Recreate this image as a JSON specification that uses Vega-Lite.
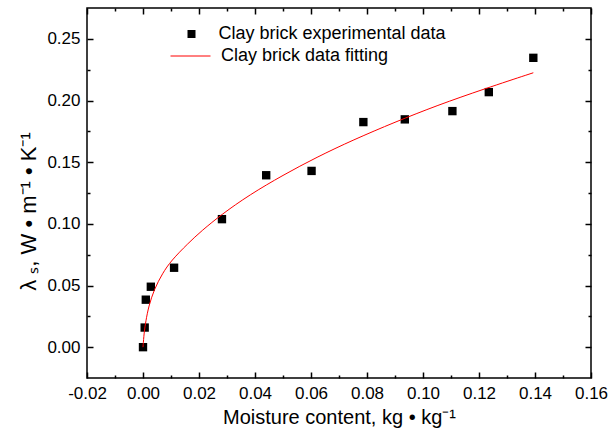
{
  "$schema": "https://vega.github.io/schema/vega-lite/v6.json",
  "width": 504,
  "height": 370,
  "autosize": {"type": "none"},
  "padding": {"left": 87, "top": 8, "right": 20, "bottom": 60},
  "config": {
    "view": {"stroke": "#000", "strokeWidth": 1.5},
    "font": "Liberation Sans",
    "axis": {
      "domain": false,
      "grid": false,
      "ticks": true,
      "tickColor": "#000",
      "tickWidth": 1.5,
      "labelColor": "#000",
      "labelFont": "Liberation Sans",
      "labelFontSize": 17,
      "titleFont": "Liberation Sans",
      "titleFontSize": 20,
      "titleFontWeight": "normal",
      "titleColor": "#000"
    },
    "legend": {
      "labelFont": "Liberation Sans",
      "labelFontSize": 18,
      "labelColor": "#000",
      "labelLimit": 0,
      "padding": 0
    }
  },
  "datasets": {
    "pts": [
      {"x": 0.0000, "y": 0.0000, "series": "Clay brick experimental data"},
      {"x": 0.0006, "y": 0.0159, "series": "Clay brick experimental data"},
      {"x": 0.0010, "y": 0.0385, "series": "Clay brick experimental data"},
      {"x": 0.0028, "y": 0.0490, "series": "Clay brick experimental data"},
      {"x": 0.0111, "y": 0.0644, "series": "Clay brick experimental data"},
      {"x": 0.0282, "y": 0.1038, "series": "Clay brick experimental data"},
      {"x": 0.0440, "y": 0.1394, "series": "Clay brick experimental data"},
      {"x": 0.0602, "y": 0.1429, "series": "Clay brick experimental data"},
      {"x": 0.0787, "y": 0.1825, "series": "Clay brick experimental data"},
      {"x": 0.0935, "y": 0.1847, "series": "Clay brick experimental data"},
      {"x": 0.1105, "y": 0.1914, "series": "Clay brick experimental data"},
      {"x": 0.1235, "y": 0.2068, "series": "Clay brick experimental data"},
      {"x": 0.1394, "y": 0.2346, "series": "Clay brick experimental data"}
    ],
    "fit": [
      {"x": 0.0000, "y": 0.0000, "series": "Clay brick data fitting"},
      {"x": 0.0004, "y": 0.0120, "series": "Clay brick data fitting"},
      {"x": 0.0010, "y": 0.0210, "series": "Clay brick data fitting"},
      {"x": 0.0020, "y": 0.0330, "series": "Clay brick data fitting"},
      {"x": 0.0040, "y": 0.0470, "series": "Clay brick data fitting"},
      {"x": 0.0070, "y": 0.0600, "series": "Clay brick data fitting"},
      {"x": 0.0100, "y": 0.0700, "series": "Clay brick data fitting"},
      {"x": 0.0160, "y": 0.0840, "series": "Clay brick data fitting"},
      {"x": 0.0210, "y": 0.0945, "series": "Clay brick data fitting"},
      {"x": 0.0280, "y": 0.1075, "series": "Clay brick data fitting"},
      {"x": 0.0380, "y": 0.1235, "series": "Clay brick data fitting"},
      {"x": 0.0500, "y": 0.1395, "series": "Clay brick data fitting"},
      {"x": 0.0620, "y": 0.1540, "series": "Clay brick data fitting"},
      {"x": 0.0750, "y": 0.1680, "series": "Clay brick data fitting"},
      {"x": 0.0900, "y": 0.1825, "series": "Clay brick data fitting"},
      {"x": 0.1050, "y": 0.1960, "series": "Clay brick data fitting"},
      {"x": 0.1220, "y": 0.2095, "series": "Clay brick data fitting"},
      {"x": 0.1394, "y": 0.2225, "series": "Clay brick data fitting"}
    ]
  },
  "layer": [
    {
      "data": {"name": "pts"},
      "mark": {"type": "point", "shape": "square", "filled": true, "color": "#000", "size": 70, "opacity": 1},
      "encoding": {
        "x": {
          "field": "x", "type": "quantitative",
          "scale": {"domain": [-0.02, 0.16], "nice": false, "zero": false},
          "axis": {
            "orient": "bottom",
            "values": [-0.02, 0, 0.02, 0.04, 0.06, 0.08, 0.1, 0.12, 0.14, 0.16],
            "tickSize": -6,
            "labelPadding": 13,
            "labelFlush": false,
            "labelExpr": "replace(format(datum.value, '.2f'), '\u2212', '-')",
            "title": "Moisture content, kg • kg⁻¹",
            "titlePadding": 6
          }
        },
        "y": {
          "field": "y", "type": "quantitative",
          "scale": {"domain": [-0.025, 0.275], "nice": false, "zero": false},
          "axis": {
            "orient": "left",
            "values": [0, 0.05, 0.1, 0.15, 0.2, 0.25],
            "tickSize": -6,
            "labelPadding": 13,
            "labelFlush": false,
            "labelExpr": "replace(format(datum.value, '.2f'), '\u2212', '-')",
            "title": "λ ₛ,  W  •  m⁻¹  •  K⁻¹",
            "titleFontSize": 22,
            "titleY": 203,
            "titlePadding": 6
          }
        },
        "shape": {
          "field": "series", "type": "nominal",
          "scale": {"range": ["square"]},
          "legend": {"orient": "none", "legendX": 95.5, "legendY": 17, "title": null, "symbolSize": 64, "symbolFillColor": "#000", "symbolStrokeColor": "#000", "labelOffset": 18}
        }
      }
    },
    {
      "data": {"name": "fit"},
      "mark": {"type": "line", "strokeWidth": 1, "interpolate": "basis"},
      "encoding": {
        "x": {
          "field": "x", "type": "quantitative",
          "axis": {"orient": "top", "values": [-0.02, 0, 0.02, 0.04, 0.06, 0.08, 0.1, 0.12, 0.14, 0.16], "tickSize": -6, "labels": false, "title": null}
        },
        "y": {
          "field": "y", "type": "quantitative",
          "axis": {"orient": "right", "values": [0, 0.05, 0.1, 0.15, 0.2, 0.25], "tickSize": -6, "labels": false, "title": null}
        },
        "color": {
          "field": "series", "type": "nominal",
          "scale": {"range": ["#ff0000"]},
          "legend": {"orient": "none", "legendX": 83, "legendY": 27.5, "title": null, "symbolType": "stroke", "symbolSize": 1600, "symbolStrokeWidth": 1, "labelOffset": 10}
        }
      }
    },
    {
      "data": {"name": "pts"},
      "mark": {"type": "point", "opacity": 0},
      "encoding": {
        "x": {
          "field": "x", "type": "quantitative",
          "axis": {"orient": "bottom", "values": [-0.01, 0.01, 0.03, 0.05, 0.07, 0.09, 0.11, 0.13, 0.15], "tickSize": -3, "labels": false, "title": null}
        },
        "y": {
          "field": "y", "type": "quantitative",
          "axis": {"orient": "left", "values": [0.025, 0.075, 0.125, 0.175, 0.225], "tickSize": -3, "labels": false, "title": null}
        }
      }
    },
    {
      "data": {"name": "pts"},
      "mark": {"type": "point", "opacity": 0},
      "encoding": {
        "x": {
          "field": "x", "type": "quantitative",
          "axis": {"orient": "top", "values": [-0.01, 0.01, 0.03, 0.05, 0.07, 0.09, 0.11, 0.13, 0.15], "tickSize": -3, "labels": false, "title": null}
        },
        "y": {
          "field": "y", "type": "quantitative",
          "axis": {"orient": "right", "values": [0.025, 0.075, 0.125, 0.175, 0.225], "tickSize": -3, "labels": false, "title": null}
        }
      }
    }
  ],
  "resolve": {"axis": {"x": "independent", "y": "independent"}}
}
